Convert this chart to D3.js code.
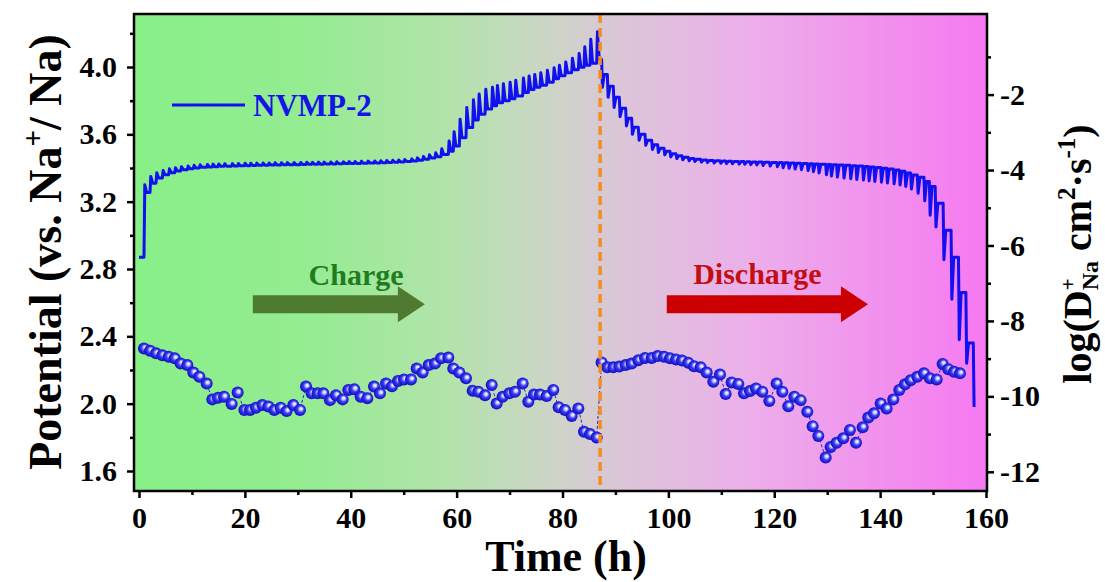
<!DOCTYPE html>
<html>
<head>
<meta charset="utf-8">
<script src="https://cdn.jsdelivr.net/npm/d3@7"></script>
<style>
  html, body { margin: 0; padding: 0; background: #ffffff; }
  svg { display: block; }
  text { font-family: "Liberation Serif", "Times New Roman", serif; font-weight: bold; }
</style>
</head>
<body>
<svg id="chart" width="1105" height="582"></svg>
<script>
// ---------------- data ----------------
// GITT titration steps during charge (h) with the diffusion coefficient for each step
const chargeTime = [0.94, 2.08, 3.21, 4.41, 5.60, 6.74, 7.87, 9.13, 10.26, 11.40, 12.78,
  13.85, 14.92, 16.06, 17.50, 18.64,
  19.90, 20.97, 22.10, 23.30, 24.43, 25.56, 26.76, 27.89, 29.15, 30.41,
  31.55, 32.62, 33.75, 34.82, 36.08, 37.21, 38.47, 39.54, 40.67, 41.87, 43.13, 44.39,
  45.52, 46.66, 47.79, 48.92, 50.06, 51.38, 52.45, 53.58, 54.72, 55.91, 57.05, 58.43,
  59.37, 60.51, 61.77,
  63.03, 64.10, 65.36, 66.62, 67.56, 68.69, 69.95, 71.02, 72.47, 73.54, 74.61, 75.75,
  77.00, 78.26, 79.27, 80.47, 81.73, 82.99, 84.06, 85.19, 86.45];
const chargeLogD = [-8.73, -8.79, -8.86, -8.91, -8.95, -8.99, -9.13, -9.17, -9.37, -9.48, -9.66,
  -10.08, -10.04, -10.01, -10.20, -9.90,
  -10.36, -10.36, -10.30, -10.23, -10.27, -10.36, -10.30, -10.39, -10.23, -10.36,
  -9.74, -9.92, -9.92, -9.92, -10.10, -9.97, -10.08, -9.83, -9.81, -10.01, -10.05, -9.74,
  -9.92, -9.66, -9.73, -9.59, -9.55, -9.55, -9.26, -9.37, -9.17, -9.13, -8.99, -8.97,
  -9.26, -9.37, -9.52,
  -9.85, -9.88, -9.97, -9.70, -10.19, -10.01, -9.92, -9.88, -9.66, -10.14, -9.95, -9.95,
  -9.99, -9.83, -10.29, -10.36, -10.52, -10.32, -10.94, -11.00, -11.09];
// cell voltage at the end of each current pulse and after each rest (charge)
const chargePeakV = [3.300, 3.350, 3.372, 3.385, 3.395, 3.402, 3.408, 3.412, 3.416, 3.419, 3.421,
  3.423, 3.424, 3.425, 3.426, 3.427,
  3.428, 3.428, 3.429, 3.430, 3.430, 3.431, 3.431, 3.432, 3.432, 3.433,
  3.434, 3.434, 3.435, 3.435, 3.436, 3.437, 3.437, 3.438, 3.439, 3.440, 3.441, 3.442,
  3.443, 3.445, 3.446, 3.448, 3.450, 3.454, 3.460, 3.468, 3.478, 3.490, 3.515, 3.560,
  3.615, 3.690, 3.760,
  3.805, 3.840, 3.868, 3.880, 3.890, 3.900, 3.910, 3.921, 3.935, 3.946, 3.956, 3.966,
  3.980, 3.995, 4.010, 4.030, 4.052, 4.080, 4.120, 4.165, 4.210];
const chargeRestV = [3.255, 3.310, 3.340, 3.360, 3.372, 3.382, 3.390, 3.396, 3.400, 3.404, 3.406,
  3.408, 3.410, 3.411, 3.412, 3.413,
  3.414, 3.415, 3.416, 3.417, 3.418, 3.418, 3.419, 3.420, 3.420, 3.421,
  3.422, 3.422, 3.423, 3.424, 3.424, 3.425, 3.426, 3.427, 3.427, 3.428, 3.429, 3.430,
  3.431, 3.432, 3.434, 3.436, 3.438, 3.441, 3.446, 3.452, 3.459, 3.467, 3.480, 3.500,
  3.530, 3.580, 3.640,
  3.685, 3.720, 3.750, 3.770, 3.788, 3.800, 3.812, 3.828, 3.848, 3.866, 3.880, 3.892,
  3.910, 3.930, 3.948, 3.966, 3.984, 3.998, 4.010, 4.022, 4.045];

// GITT titration steps during discharge (h) with the diffusion coefficient for each step
const dischargeTime = [87.39, 88.47, 89.60, 90.73, 91.93, 93.06, 94.32, 95.58, 96.84, 97.97,
  99.17, 100.30, 101.44, 102.57, 103.76, 104.84, 106.10, 107.23, 108.49, 109.75,
  110.82, 111.95, 113.21, 114.28, 115.41, 116.55, 117.74, 119.07, 120.45, 121.52,
  122.65, 123.79, 124.98, 126.24, 127.25, 128.32, 129.71, 130.65, 131.78, 133.04,
  134.30, 135.44, 136.70, 137.76, 138.84, 140.10, 141.23, 142.49, 143.62, 144.69,
  145.76, 147.02, 148.28, 149.41, 150.68, 151.81, 152.88, 153.95, 155.08];
const dischargeLogD = [-9.10, -9.23, -9.23, -9.21, -9.17, -9.13, -9.04, -8.98, -8.98, -8.93,
  -8.95, -8.99, -9.02, -9.05, -9.11, -9.20, -9.23, -9.37, -9.61, -9.42,
  -9.94, -9.63, -9.67, -9.92, -9.86, -9.79, -9.88, -10.12, -9.66, -9.88,
  -10.26, -10.01, -10.10, -10.41, -10.79, -11.05, -11.62, -11.34, -11.23, -11.11,
  -10.89, -11.23, -10.82, -10.56, -10.45, -10.19, -10.32, -10.08, -9.83, -9.68,
  -9.57, -9.48, -9.39, -9.52, -9.55, -9.14, -9.28, -9.35, -9.39];
// discharge pulses: start time, voltage at the end of each pulse and after each rest
const dischargeStepTime = [87.39, 88.47, 89.60, 90.73, 91.93, 93.06, 94.32, 95.58, 96.84, 97.97,
  99.17, 100.30, 101.44, 102.57, 103.76, 104.84, 106.10, 107.23, 108.49, 109.75,
  110.82, 111.95, 113.21, 114.28, 115.41, 116.55, 117.74, 119.07, 120.45, 121.52,
  122.65, 123.79, 124.98, 126.24, 127.25, 128.32, 129.71, 130.65, 131.78, 133.04,
  134.30, 135.44, 136.70, 137.76, 138.84, 140.10, 141.23, 142.49, 143.62, 144.69,
  145.76, 147.02, 148.28, 149.30, 150.40, 151.90, 153.40, 154.80, 156.20, 157.60];
const dischargeLowV = [3.880, 3.820, 3.760, 3.705, 3.650, 3.600, 3.565, 3.535, 3.510, 3.492,
  3.478, 3.466, 3.456, 3.449, 3.443, 3.439, 3.435, 3.432, 3.430, 3.428,
  3.426, 3.425, 3.423, 3.422, 3.420, 3.418, 3.415, 3.412, 3.408, 3.402,
  3.398, 3.394, 3.390, 3.385, 3.378, 3.370, 3.360, 3.352, 3.346, 3.340,
  3.336, 3.332, 3.328, 3.324, 3.320, 3.316, 3.311, 3.306, 3.299, 3.290,
  3.275, 3.250, 3.205, 3.120, 3.050, 2.855, 2.620, 2.380, 2.240, 1.980];
const dischargeRestV = [3.955, 3.885, 3.820, 3.755, 3.695, 3.642, 3.600, 3.565, 3.538, 3.518,
  3.500, 3.485, 3.473, 3.464, 3.457, 3.452, 3.448, 3.445, 3.443, 3.441,
  3.440, 3.439, 3.438, 3.437, 3.436, 3.435, 3.434, 3.433, 3.432, 3.431,
  3.430, 3.428, 3.427, 3.425, 3.424, 3.423, 3.421, 3.420, 3.418, 3.416,
  3.414, 3.412, 3.409, 3.406, 3.403, 3.399, 3.394, 3.388, 3.380, 3.370,
  3.358, 3.345, 3.320, 3.290, 3.190, 3.030, 2.870, 2.660, 2.360, 1.980];

const openCircuitV = 2.87;      // before the first pulse
const switchTime = 87.1;        // charge -> discharge
const seriesName = "NVMP-2";

const xTicks = [0, 20, 40, 60, 80, 100, 120, 140, 160];
const xMinorTicks = [10, 30, 50, 70, 90, 110, 130, 150];
const vTicks = [1.6, 2.0, 2.4, 2.8, 3.2, 3.6, 4.0];
const vMinorTicks = [1.8, 2.2, 2.6, 3.0, 3.4, 3.8, 4.2];
const dTicks = [-12, -10, -8, -6, -4, -2];
const dMinorTicks = [-11, -9, -7, -5, -3, -1];

// ---------------- layout ----------------
const svg = d3.select("#chart");
const frame = { left: 134, right: 987, top: 14, bottom: 491 };

const x = d3.scaleLinear().domain([0, 160]).range([139, 986]);
const yV = d3.scaleLinear().domain([1.6, 4.0]).range([471, 67]);
const yD = d3.scaleLinear().domain([-12, -2]).range([471.8, 94.6]);

const defs = svg.append("defs");

// background shading: green (charge) -> grey -> magenta (discharge)
const bg = defs.append("linearGradient").attr("id", "bgGrad")
  .attr("x1", "0").attr("x2", "1").attr("y1", "0").attr("y2", "0");
[[0, "#88ef88"], [0.2, "#94ec91"], [0.37, "#b3e3ab"], [0.5, "#cfd3c9"],
 [0.57, "#dbc6d8"], [0.72, "#ecafea"], [1, "#f679f1"]]
  .forEach(([o, c]) => bg.append("stop").attr("offset", o).attr("stop-color", c));

// shaded sphere markers
const ball = defs.append("radialGradient").attr("id", "ballGrad")
  .attr("cx", "0.5").attr("cy", "0.5").attr("r", "0.55")
  .attr("fx", "0.62").attr("fy", "0.38");
[[0, "#ffffff"], [0.22, "#cfcfff"], [0.5, "#3a3af6"], [1, "#0606b0"]]
  .forEach(([o, c]) => ball.append("stop").attr("offset", o).attr("stop-color", c));

defs.append("clipPath").attr("id", "plotClip").append("rect")
  .attr("x", frame.left).attr("y", frame.top)
  .attr("width", frame.right - frame.left).attr("height", frame.bottom - frame.top);

svg.append("rect")
  .attr("x", frame.left).attr("y", frame.top)
  .attr("width", frame.right - frame.left).attr("height", frame.bottom - frame.top)
  .attr("fill", "url(#bgGrad)");

const plot = svg.append("g").attr("clip-path", "url(#plotClip)");

// ---------------- diffusion coefficients (right axis) ----------------
const dots = chargeTime.map((t, i) => ({ t, d: chargeLogD[i] }))
  .concat(dischargeTime.map((t, i) => ({ t, d: dischargeLogD[i] })));

plot.append("path")
  .datum(dots)
  .attr("fill", "none")
  .attr("stroke", "#2828d0")
  .attr("stroke-width", 1)
  .attr("stroke-dasharray", "3,2")
  .attr("d", d3.line().x(p => x(p.t)).y(p => yD(p.d)));

plot.append("g").selectAll("circle")
  .data(dots)
  .join("circle")
  .attr("cx", p => x(p.t))
  .attr("cy", p => yD(p.d))
  .attr("r", 6)
  .attr("fill", "url(#ballGrad)");

// ---------------- GITT potential profile (left axis) ----------------
const pulseLen = 0.15, relaxLen = 0.35;
const vPts = [[0, openCircuitV]];
let prev = openCircuitV;
chargeTime.forEach((t, i) => {
  vPts.push([t, prev], [t + pulseLen, chargePeakV[i]], [t + pulseLen + relaxLen, chargeRestV[i]]);
  prev = chargeRestV[i];
});
dischargeStepTime.forEach((t, i) => {
  vPts.push([t, prev], [t + pulseLen, dischargeLowV[i]]);
  if (i < dischargeStepTime.length - 1) {
    vPts.push([t + pulseLen + relaxLen, dischargeRestV[i]]);
  }
  prev = dischargeRestV[i];
});

plot.append("path")
  .datum(vPts)
  .attr("fill", "none")
  .attr("stroke", "#1010f0")
  .attr("stroke-width", 3)
  .attr("stroke-linejoin", "round")
  .attr("d", d3.line().x(p => x(p[0])).y(p => yV(p[1])));

// charge / discharge boundary
svg.append("line")
  .attr("x1", x(switchTime)).attr("x2", x(switchTime))
  .attr("y1", frame.top).attr("y2", frame.bottom)
  .attr("stroke", "#f48d22").attr("stroke-width", 3.5)
  .attr("stroke-dasharray", "9,5");

// ---------------- annotations ----------------
function arrow(t0, t1, v, color) {
  const xa = x(t0), xb = x(t1), yc = yV(v);
  const headLen = 27, bodyHalf = 9, headHalf = 18;
  const pts = [[xa, yc - bodyHalf], [xb - headLen, yc - bodyHalf], [xb - headLen, yc - headHalf],
    [xb, yc], [xb - headLen, yc + headHalf], [xb - headLen, yc + bodyHalf], [xa, yc + bodyHalf]];
  svg.append("polygon").attr("points", pts.map(p => p.join(",")).join(" ")).attr("fill", color);
}
arrow(21.5, 54.0, 2.59, "#4f7b30");
arrow(99.7, 137.7, 2.59, "#cc0000");

svg.append("text").attr("x", x(41)).attr("y", 285).attr("text-anchor", "middle")
  .style("font-size", "30px").attr("fill", "#1f7d1f").text("Charge");
svg.append("text").attr("x", x(116.8)).attr("y", 284).attr("text-anchor", "middle")
  .style("font-size", "30px").attr("fill", "#c20f12").text("Discharge");

// legend
svg.append("line").attr("x1", 172).attr("x2", 245).attr("y1", 105).attr("y2", 105)
  .attr("stroke", "#1010f0").attr("stroke-width", 3);
svg.append("text").attr("x", 253).attr("y", 116)
  .style("font-size", "31px").attr("fill", "#1414e6").text(seriesName);

// ---------------- axes ----------------
function styleAxis(g) {
  g.select(".domain").remove();
  g.selectAll(".tick line").attr("stroke", "#000").attr("stroke-width", 2.5);
  g.selectAll(".tick text").attr("fill", "#000")
    .style("font-size", "30px").style("font-family", "'Liberation Serif', 'Times New Roman', serif")
    .style("font-weight", "bold");
}

svg.append("g").attr("transform", `translate(${frame.left},0)`)
  .call(d3.axisLeft(yV).tickValues(vTicks).tickSize(7).tickPadding(10).tickFormat(d3.format(".1f")))
  .call(styleAxis);
svg.append("g").attr("transform", `translate(${frame.left},0)`)
  .call(d3.axisLeft(yV).tickValues(vMinorTicks).tickSize(4).tickFormat(""))
  .call(styleAxis);

svg.append("g").attr("transform", `translate(0,${frame.bottom})`)
  .call(d3.axisBottom(x).tickValues(xTicks).tickSize(7).tickPadding(9).tickFormat(d => String(d)))
  .call(styleAxis);
svg.append("g").attr("transform", `translate(0,${frame.bottom})`)
  .call(d3.axisBottom(x).tickValues(xMinorTicks).tickSize(4).tickFormat(""))
  .call(styleAxis);

svg.append("g").attr("transform", `translate(${frame.right},0)`)
  .call(d3.axisRight(yD).tickValues(dTicks).tickSize(7).tickPadding(6).tickFormat(d => String(d)))
  .call(styleAxis);
svg.append("g").attr("transform", `translate(${frame.right},0)`)
  .call(d3.axisRight(yD).tickValues(dMinorTicks).tickSize(4).tickFormat(""))
  .call(styleAxis);

svg.append("rect")
  .attr("x", frame.left).attr("y", frame.top)
  .attr("width", frame.right - frame.left).attr("height", frame.bottom - frame.top)
  .attr("fill", "none").attr("stroke", "#000").attr("stroke-width", 2.5);

// axis titles
svg.append("text").attr("x", 566).attr("y", 571).attr("text-anchor", "middle")
  .style("font-size", "44px").text("Time (h)");

const lt = svg.append("text").attr("transform", "translate(61,252) rotate(-90)")
  .attr("text-anchor", "middle").style("font-size", "46px");
lt.append("tspan").text("Potential (vs. Na");
lt.append("tspan").attr("dy", -18).style("font-size", "29px").text("+");
lt.append("tspan").attr("dy", 18).text("/ Na)");

const rt = svg.append("text").attr("transform", "translate(1091,254) rotate(-90)")
  .attr("text-anchor", "middle").style("font-size", "40px");
rt.append("tspan").text("log(D");
rt.append("tspan").attr("dy", -16).style("font-size", "21px").text("+");
rt.append("tspan").attr("dx", -12).attr("dy", 23).style("font-size", "24px").text("Na");
rt.append("tspan").attr("dy", -7).text(" cm");
rt.append("tspan").attr("dy", -16).style("font-size", "25px").text("2");
rt.append("tspan").attr("dy", 16).text("·s");
rt.append("tspan").attr("dy", -16).style("font-size", "25px").text("-1");
rt.append("tspan").attr("dy", 16).text(")");
</script>
</body>
</html>
